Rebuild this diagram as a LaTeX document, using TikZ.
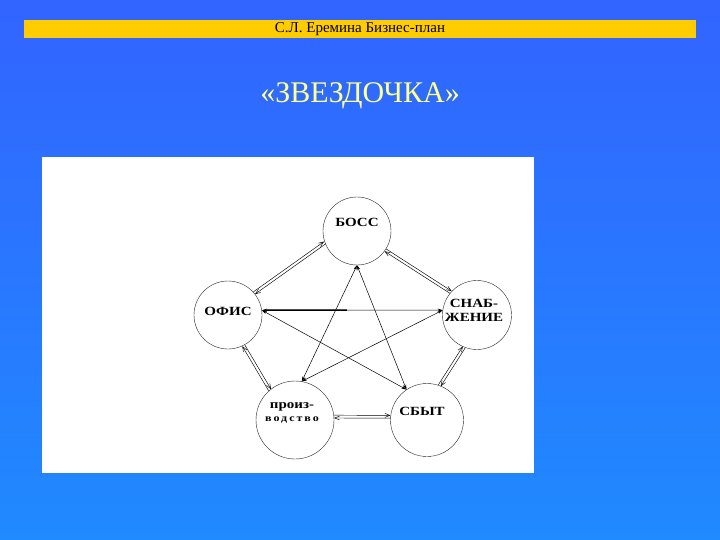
\documentclass[tikz,border=0pt]{standalone}
\usepackage{fontspec}
\setmainfont{Liberation Serif}
\newfontfamily\labelfont[FakeStretch=1.2]{Liberation Serif}
\newfontfamily\spacedfont[FakeStretch=1.2,LetterSpace=20]{Liberation Serif}
\usetikzlibrary{calc,arrows.meta}

\definecolor{bgtop}{RGB}{50,100,255}
\definecolor{bgbottom}{RGB}{32,138,255}
\definecolor{barcolor}{RGB}{255,204,0}
\definecolor{titlecolor}{RGB}{255,255,140}

% two thin arrows side by side, one each way
\newcommand{\twoway}[2]{%
	\draw[pair] ($(#1)!1.4pt!90:(#2)$) -- ($(#2)!1.4pt!-90:(#1)$);
	\draw[pair] ($(#2)!1.4pt!90:(#1)$) -- ($(#1)!1.4pt!-90:(#2)$);}

\begin{document}
\begin{tikzpicture}[x=1pt,y=-1pt,
	unit/.style={circle,draw=black!85,line width=0.4pt,inner sep=0pt},
	lbl/.style={font=\labelfont\bfseries\fontsize{12.5}{14}\selectfont,align=center,inner sep=1pt},
	star/.style={<->,>={Stealth[length=5pt,width=3pt]},line width=0.5pt},
	pair/.style={->,>={Straight Barb[length=5pt,width=4pt]},line width=0.45pt}]

	% background
	\shade[top color=bgtop,bottom color=bgbottom] (0,0) rectangle (720,540);
	\useasboundingbox (0,0) rectangle (720,540);

	% header bar
	\fill[barcolor] (24,20) rectangle (696,38);
	\node[font=\fontsize{15}{17}\selectfont] (header) at (360,29.5) {С.Л. Еремина Бизнес-план};

	% title
	\node[text=titlecolor,font=\fontsize{30}{34}\selectfont] (title) at (360,96) {«ЗВЕЗДОЧКА»};

	% white panel
	\fill[white] (42,157) rectangle (534,473);

	% circles
	\node[unit,minimum size=68pt] (boss) at (357,231) {};
	\node[unit,minimum size=68pt] (ofis) at (228,315) {};
	\node[unit,minimum size=69pt] (snab) at (477,315) {};
	\node[unit,minimum size=78pt] (proizv) at (295,420) {};
	\node[unit,minimum size=73pt] (sbyt) at (427,420) {};

	% labels
	\node[lbl] (bossL) at ([yshift=9pt]boss.center) {БОСС};
	\node[lbl] (ofisL) at ([yshift=4pt]ofis.center) {ОФИС};
	\node[lbl] (snabL) at ([xshift=-3pt,yshift=5pt]snab.center) {СНАБ-\\ЖЕНИЕ};
	\node[lbl,align=center] (proizvL) at ([xshift=-3pt,yshift=7pt]proizv.center)
		{произ-\\[-1pt]{\spacedfont\fontsize{10}{12}\selectfont водство}};
	\node[lbl] (sbytL) at ([xshift=-5pt,yshift=9pt]sbyt.center) {СБЫТ};

	% outer links
	\twoway{ofis.40}{boss.200}
	\twoway{boss.-34}{snab.139}
	\twoway{ofis.-63}{proizv.130}
	\twoway{snab.-112}{sbyt.70}
	\twoway{proizv.5}{sbyt.175}

	% star
	\draw[star] (boss.south) -- (proizv.80);
	\draw[star] (boss.south) -- (sbyt.124);
	\draw[star] (ofis.8) -- (snab.172);
	\draw[star] (ofis.8) -- (sbyt.124);
	\draw[star] (snab.172) -- (proizv.80);

	% thick part
	\coordinate (mid) at ($(ofis.8)!0.47!(snab.172)$);
	\draw[line width=1.5pt] (mid) -- ([xshift=4pt]ofis.8);

\end{tikzpicture}
\end{document}
